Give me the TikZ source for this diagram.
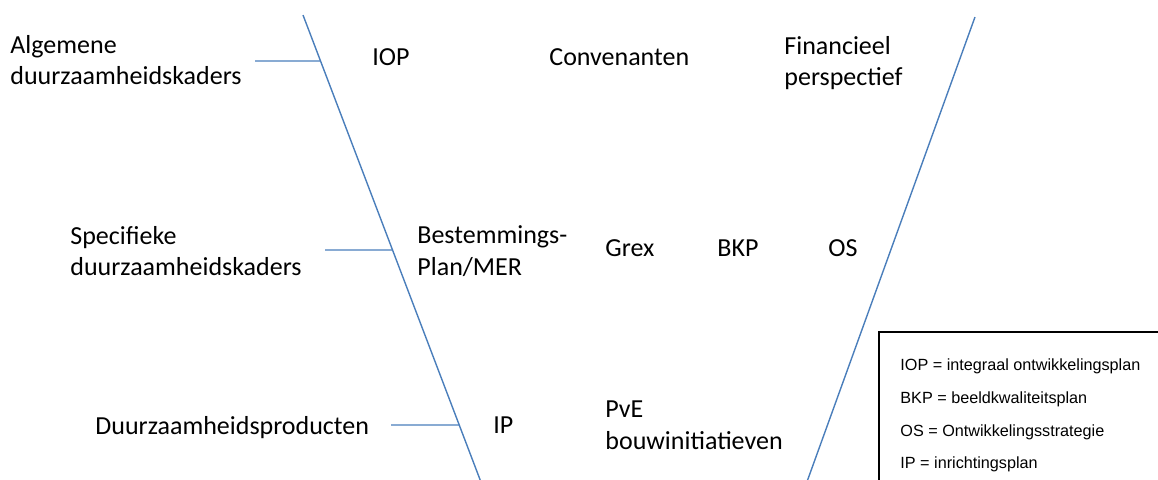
\documentclass[tikz,border=0pt]{standalone}
\usepackage{fontspec}
\setmainfont{Carlito}
\newfontfamily\legendfont{Liberation Sans}
\usetikzlibrary{calc}
\definecolor{vblue}{RGB}{74,126,187}
\tikzset{ %styles for the V diagram
  vline/.style={draw=vblue, line width=0.7pt},
  hlink/.style={draw=vblue, line width=0.7pt},
  lbl/.style={inner sep=0pt, anchor=west, align=left,
    font=\fontsize{13}{15.8}\selectfont},
  legend/.style={inner sep=0pt, anchor=west, align=left,
    font=\legendfont\fontsize{8.1}{16.35}\selectfont}
}

\begin{document}
\begin{tikzpicture}[x=0.5pt, y=-0.5pt] % one unit is one pixel, y runs down
  \useasboundingbox (0,0) rectangle (1158,479);
  \clip (0,0) rectangle (1158,479);

  % the two legs of the V
  \coordinate (ltop) at (303,15);
  \coordinate (lbot) at (484,490);
  \coordinate (rtop) at (975,17);
  \coordinate (rbot) at (804,490);
  \draw[vline] (ltop) -- (lbot);
  \draw[vline] (rtop) -- (rbot);

  % left column
  \node[lbl] (alg) at (10,60) {Algemene\\duurzaamheidskaders};
  \node[lbl] (spec) at (70,251) {Specifieke\\duurzaamheidskaders};
  \node[lbl] (prod) at (95,428) {Duurzaamheidsproducten};

  % instruments inside the V
  \node[lbl] (iop) at (372,57) {IOP};
  \node[lbl] (conv) at (549,57) {Convenanten};
  \node[lbl] (fin) at (784,63) {Financieel\\perspectief};
  \node[lbl] (bp) at (417,251) {Bestemmings-\\Plan/MER};
  \node[lbl] (grex) at (605,248) {Grex};
  \node[lbl] (bkp) at (717,248) {BKP};
  \node[lbl] (os) at (828,248) {OS};
  \node[lbl] (ip) at (493,425) {IP};
  \node[lbl] (pve) at (605,425) {PvE\\bouwinitiatieven};

  % links to the left leg
  \coordinate (a1) at (255,61);
  \coordinate (a2) at (325,250);
  \coordinate (a3) at (391,425);
  \coordinate (j1) at ($(ltop)!{(61-15)/(490-15)}!(lbot)$);
  \coordinate (j2) at ($(ltop)!{(250-15)/(490-15)}!(lbot)$);
  \coordinate (j3) at ($(ltop)!{(425-15)/(490-15)}!(lbot)$);
  \draw[hlink] (a1) -- (j1);
  \draw[hlink] (a2) -- (j2);
  \draw[hlink] (a3) -- (j3);

  % legend
  \draw[line width=0.9pt] (1170,332) -| (879,495);
  \node[legend] (leg) at (900,415.5) {IOP = integraal ontwikkelingsplan\\
    BKP = beeldkwaliteitsplan\\
    OS = Ontwikkelingsstrategie\\
    IP = inrichtingsplan};
\end{tikzpicture}
\end{document}
